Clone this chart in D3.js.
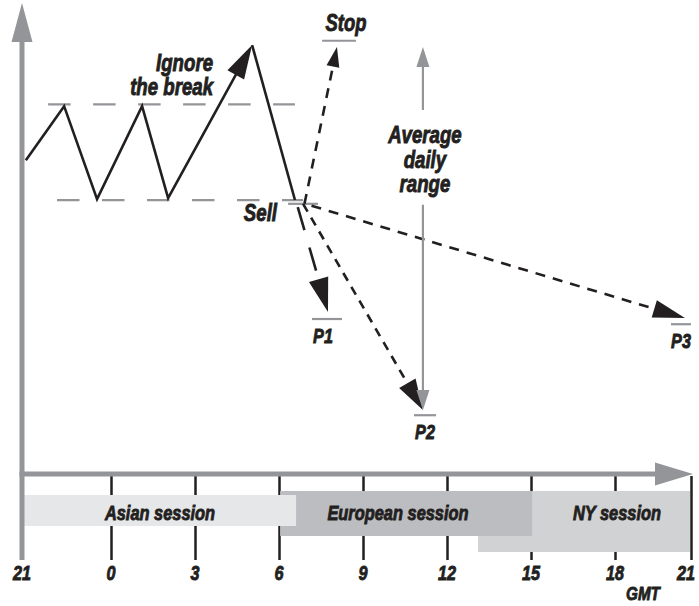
<!DOCTYPE html>
<html><head><meta charset="utf-8">
<script src="https://cdn.jsdelivr.net/npm/d3@7"></script>
<style>
body{margin:0;background:#fff;}
text{font-family:"Liberation Sans",Arial,sans-serif;font-weight:bold;font-style:italic;fill:#231f20;stroke:#231f20;stroke-width:0.9px;}
</style></head>
<body><svg id="c" width="699" height="606"></svg>
<script>
// ---- data (hours since 21:00 GMT, price in arbitrary units) ----
const tickHours = [0,3,6,9,12,15,18,21,24];
const tickLabels = ["21","0","3","6","9","12","15","18","21"];
const priceHours = [0.13,1.42,2.53,4.11,5.04];
const priceValues = [66.2,77.6,58.0,77.6,58.2];
const breakHour = 8.04, breakValue = 90.5;
const sellDropHour = 9.57, sellDropValue = 57.8;
const resistanceLevel = 78.0, supportLevel = 57.8;
const rangeStartHours = [0.88, 1.18];
const sellHour = 9.86, sellValue = 57.0;
const targetNames = ["Stop","P1","P2","P3"];
const targetHours = [11.07,10.75,14.14,23.76];
const targetValues = [90.1,34.2,13.5,32.9];
const targetLineHours = [[10.54,11.75],[10.18,11.25],[13.82,14.61],[23.21,24.0]];
const targetLineValues = [91.4,32.7,12.4,31.6];
const adrHour = 14.14, adrTop = 90.1, adrUpperStem = 76.8, adrLowerStem = 56.8, adrBottom = 13.5;
const sessions = ["NY session","European session","Asian session"];
const sessionStart = [16.11,9.04,0];
const sessionEnd = [23.96,18.04,9.61];
const sessionColors = ["#d1d2d4","#bcbdc0","#e6e7e9"];

const svg = d3.select("#c");
const x = d3.scaleLinear().domain([0,3,21,24]).range([22,111,615,691]);
const y = d3.scaleLinear().domain([0,100]).range([474,0]);
const grey = "#939598", ink = "#231f20";

function head(x2,y2,x1,y1,len,wid,color){
  const a = Math.atan2(y2-y1,x2-x1);
  const bx = x2-len*Math.cos(a), by = y2-len*Math.sin(a);
  const px = -Math.sin(a)*wid/2, py = Math.cos(a)*wid/2;
  svg.append("path").attr("d",`M${x2},${y2}L${bx+px},${by+py}L${bx-px},${by-py}Z`).attr("fill",color);
}
const t = (s,xx,yy,anchor,size,cond)=>svg.append("text").attr("x",xx).attr("y",yy).attr("text-anchor",anchor)
  .attr("font-size",size).attr("data-c",cond).text(s);

// ticks (under session bars)
const xAxis = d3.axisBottom(x).tickValues(tickHours.slice(1)).tickSize(84).tickFormat("");
const gx = svg.append("g").attr("transform","translate(0,476)").call(xAxis);
gx.select(".domain").remove();
gx.selectAll(".tick line").attr("stroke",ink).attr("stroke-width",2.5);

// session bars
const barTop = [491,491,495], barBot=[552,536,526];
const sessionTextX = [617,398,160];
sessions.forEach((s,i)=>{
  svg.append("rect").attr("x",x(sessionStart[i])).attr("y",barTop[i])
    .attr("width",x(sessionEnd[i])-x(sessionStart[i])).attr("height",barBot[i]-barTop[i])
    .attr("fill",sessionColors[i]);
});
sessions.forEach((s,i)=>t(s,sessionTextX[i],520,"middle",21,0.78));

// axes lines
svg.append("line").attr("x1",x(0)).attr("x2",x(0)).attr("y1",40).attr("y2",560).attr("stroke",grey).attr("stroke-width",5);
head(x(0),3,x(0),100,39,21,grey);
svg.append("line").attr("x1",x(0)-2.5).attr("x2",660).attr("y1",y(0)).attr("y2",y(0)).attr("stroke",grey).attr("stroke-width",5);
head(x(24.08),y(0),x(20),y(0),38,23,grey);

// tick labels
tickHours.forEach((h,i)=>t(tickLabels[i],Math.max(16,Math.min(686,x(h))),580,"middle",21,0.77));
t("GMT",643,600,"middle",19,0.8);

// dashed range lines
[resistanceLevel,supportLevel].forEach((v,i)=>{
  svg.append("line").attr("x1",x(rangeStartHours[i])).attr("x2",x(i===0?sellDropHour:sellHour))
    .attr("y1",y(v)).attr("y2",y(v)).attr("stroke",grey).attr("stroke-width",2.2).attr("stroke-dasharray","22.5,22.5");
});
svg.append("line").attr("x1",x(sellHour)-15).attr("x2",x(sellHour)+15).attr("y1",y(sellValue)).attr("y2",y(sellValue))
  .attr("stroke",grey).attr("stroke-width",2.2);

// price zigzag
const line = d3.line().x(d=>x(d[0])).y(d=>y(d[1]));
const zig = priceHours.map((h,i)=>[h,priceValues[i]]);
const a0 = Math.atan2(y(breakValue)-y(priceValues[4]),x(breakHour)-x(priceHours[4]));
svg.append("path").attr("d",line(zig)+`L${x(breakHour)-28*Math.cos(a0)},${y(breakValue)-28*Math.sin(a0)}`)
  .attr("fill","none").attr("stroke",ink).attr("stroke-width",2.6).attr("stroke-linejoin","miter");
svg.append("path").attr("d",line([[breakHour,breakValue],[sellDropHour,sellDropValue]])).attr("fill","none").attr("stroke",ink).attr("stroke-width",2.6);
head(x(breakHour),y(breakValue),x(priceHours[4]),y(priceValues[4]),34,19,ink);

// target lines
targetNames.forEach((n,i)=>{
  svg.append("line").attr("x1",x(targetLineHours[i][0])).attr("x2",x(targetLineHours[i][1]))
    .attr("y1",y(targetLineValues[i])).attr("y2",y(targetLineValues[i])).attr("stroke",grey).attr("stroke-width",2.2);
});

// dashed target arrows
const dashes = ["10,8","24,18","9,7","10,8"];
const hl = [20,34,31,32], hw=[13,20,19,18];
const origins = [[sellHour+0.05,sellValue],[sellDropHour+0.1,sellDropValue-1.5],[sellHour,sellValue],[sellHour+0.3,sellValue-0.4]];
targetNames.forEach((n,i)=>{
  const x1=x(origins[i][0]), y1=y(origins[i][1]), x2=x(targetHours[i]), y2=y(targetValues[i]);
  const a=Math.atan2(y2-y1,x2-x1);
  svg.append("line").attr("x1",x1).attr("y1",y1).attr("x2",x2-(hl[i]-4)*Math.cos(a)).attr("y2",y2-(hl[i]-4)*Math.sin(a))
    .attr("stroke",ink).attr("stroke-width",2.6).attr("stroke-dasharray",dashes[i]);
  head(x2,y2,x1,y1,hl[i],hw[i],ink);
});

// average daily range arrow
svg.append("line").attr("x1",x(adrHour)).attr("x2",x(adrHour)).attr("y1",y(adrUpperStem)).attr("y2",y(adrTop)+15).attr("stroke",grey).attr("stroke-width",2.2);
head(x(adrHour),y(adrTop),x(adrHour),y(adrUpperStem),20,13,grey);
svg.append("line").attr("x1",x(adrHour)).attr("x2",x(adrHour)).attr("y1",y(adrLowerStem)).attr("y2",y(adrBottom)-15).attr("stroke",grey).attr("stroke-width",2.2);
head(x(adrHour),y(adrBottom),x(adrHour),y(adrLowerStem),20,13,grey);

// labels
t("Ignore",213,71,"end",23,0.81);
t("the break",213,95,"end",23,0.81);
t("Average",x(adrHour)+2,143,"middle",23,0.81);
t("daily",x(adrHour)+2,168,"middle",23,0.81);
t("range",x(adrHour)+2,192,"middle",23,0.81);
t("Sell",277,221,"end",23,0.81);
t("Stop",346,31,"middle",23,0.8);
t("P1",323,343,"middle",21,0.77);
t("P2",425,439,"middle",21,0.77);
t("P3",681,348,"middle",21,0.77);

// condensed lettering
svg.selectAll("text").each(function(){
  const w=this.getComputedTextLength();
  const c=+this.getAttribute("data-c");
  d3.select(this).attr("textLength",w*c).attr("lengthAdjust","spacingAndGlyphs");
});
</script></body></html>
